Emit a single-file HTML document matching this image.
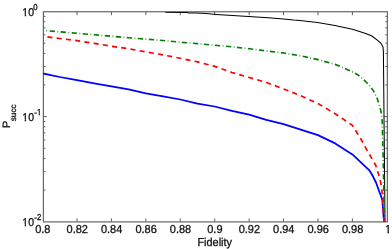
<!DOCTYPE html>
<html><head><meta charset="utf-8"><title>P_succ vs Fidelity</title><style>
html,body{margin:0;padding:0;background:#fff;overflow:hidden;}
svg{display:block;will-change:transform;font-family:"Liberation Sans",sans-serif;}
text{text-rendering:geometricPrecision;fill:#111;stroke:#111;stroke-width:0.3;}
</style></head><body>
<svg width="392" height="249" viewBox="0 0 392 249">
<defs><clipPath id="plot"><rect x="44.0" y="11.75" width="343.35" height="210.15"/></clipPath><clipPath id="plotb"><rect x="43.199999999999996" y="11.75" width="343.95" height="210.15"/></clipPath><clipPath id="c0"><path d="M-2.00,-13.50H11.50V-1.51H4.16V2.00H2.64V-1.51H-2.00Z"/></clipPath><clipPath id="c1"><path d="M-2.00,-13.30H11.30V-1.49H4.09V2.00H2.59V-1.49H-2.00Z"/></clipPath><clipPath id="c2"><path d="M-2.00,-13.30H11.30V-1.49H4.09V2.00H2.59V-1.49H-2.00Z"/></clipPath><clipPath id="c3"><path d="M-2.00,-10.60H8.60V-1.29H3.17V2.00H1.91V-1.29H-2.00Z"/></clipPath><clipPath id="c4"><path d="M-2.00,-13.30H11.30V-1.49H4.09V2.00H2.59V-1.49H-2.00Z"/></clipPath></defs>
<rect width="392" height="249" fill="#fff"/>
<rect x="43.4" y="11.75" width="343.95" height="210.15" fill="none" stroke="#666" stroke-width="1.2"/>
<line x1="77.01" y1="221.9" x2="77.01" y2="218.4" stroke="#505050" stroke-width="0.9"/>
<line x1="77.01" y1="11.75" x2="77.01" y2="15.25" stroke="#505050" stroke-width="0.9"/>
<line x1="111.43" y1="221.9" x2="111.43" y2="218.4" stroke="#505050" stroke-width="0.9"/>
<line x1="111.43" y1="11.75" x2="111.43" y2="15.25" stroke="#505050" stroke-width="0.9"/>
<line x1="145.86" y1="221.9" x2="145.86" y2="218.4" stroke="#505050" stroke-width="0.9"/>
<line x1="145.86" y1="11.75" x2="145.86" y2="15.25" stroke="#505050" stroke-width="0.9"/>
<line x1="180.28" y1="221.9" x2="180.28" y2="218.4" stroke="#505050" stroke-width="0.9"/>
<line x1="180.28" y1="11.75" x2="180.28" y2="15.25" stroke="#505050" stroke-width="0.9"/>
<line x1="214.70" y1="221.9" x2="214.70" y2="218.4" stroke="#505050" stroke-width="0.9"/>
<line x1="214.70" y1="11.75" x2="214.70" y2="15.25" stroke="#505050" stroke-width="0.9"/>
<line x1="249.13" y1="221.9" x2="249.13" y2="218.4" stroke="#505050" stroke-width="0.9"/>
<line x1="249.13" y1="11.75" x2="249.13" y2="15.25" stroke="#505050" stroke-width="0.9"/>
<line x1="283.56" y1="221.9" x2="283.56" y2="218.4" stroke="#505050" stroke-width="0.9"/>
<line x1="283.56" y1="11.75" x2="283.56" y2="15.25" stroke="#505050" stroke-width="0.9"/>
<line x1="317.98" y1="221.9" x2="317.98" y2="218.4" stroke="#505050" stroke-width="0.9"/>
<line x1="317.98" y1="11.75" x2="317.98" y2="15.25" stroke="#505050" stroke-width="0.9"/>
<line x1="352.40" y1="221.9" x2="352.40" y2="218.4" stroke="#505050" stroke-width="0.9"/>
<line x1="352.40" y1="11.75" x2="352.40" y2="15.25" stroke="#505050" stroke-width="0.9"/>
<line x1="43.4" y1="116.62" x2="46.9" y2="116.62" stroke="#505050" stroke-width="0.9"/>
<line x1="387.35" y1="116.62" x2="383.85" y2="116.62" stroke="#505050" stroke-width="0.9"/>
<line x1="43.4" y1="84.99" x2="45.4" y2="84.99" stroke="#505050" stroke-width="0.9"/>
<line x1="387.35" y1="84.99" x2="385.35" y2="84.99" stroke="#505050" stroke-width="0.9"/>
<line x1="43.4" y1="66.49" x2="45.4" y2="66.49" stroke="#505050" stroke-width="0.9"/>
<line x1="387.35" y1="66.49" x2="385.35" y2="66.49" stroke="#505050" stroke-width="0.9"/>
<line x1="43.4" y1="53.36" x2="45.4" y2="53.36" stroke="#505050" stroke-width="0.9"/>
<line x1="387.35" y1="53.36" x2="385.35" y2="53.36" stroke="#505050" stroke-width="0.9"/>
<line x1="43.4" y1="43.18" x2="45.4" y2="43.18" stroke="#505050" stroke-width="0.9"/>
<line x1="387.35" y1="43.18" x2="385.35" y2="43.18" stroke="#505050" stroke-width="0.9"/>
<line x1="43.4" y1="34.86" x2="45.4" y2="34.86" stroke="#505050" stroke-width="0.9"/>
<line x1="387.35" y1="34.86" x2="385.35" y2="34.86" stroke="#505050" stroke-width="0.9"/>
<line x1="43.4" y1="27.83" x2="45.4" y2="27.83" stroke="#505050" stroke-width="0.9"/>
<line x1="387.35" y1="27.83" x2="385.35" y2="27.83" stroke="#505050" stroke-width="0.9"/>
<line x1="43.4" y1="21.73" x2="45.4" y2="21.73" stroke="#505050" stroke-width="0.9"/>
<line x1="387.35" y1="21.73" x2="385.35" y2="21.73" stroke="#505050" stroke-width="0.9"/>
<line x1="43.4" y1="16.36" x2="45.4" y2="16.36" stroke="#505050" stroke-width="0.9"/>
<line x1="387.35" y1="16.36" x2="385.35" y2="16.36" stroke="#505050" stroke-width="0.9"/>
<line x1="43.4" y1="190.07" x2="45.4" y2="190.07" stroke="#505050" stroke-width="0.9"/>
<line x1="387.35" y1="190.07" x2="385.35" y2="190.07" stroke="#505050" stroke-width="0.9"/>
<line x1="43.4" y1="171.57" x2="45.4" y2="171.57" stroke="#505050" stroke-width="0.9"/>
<line x1="387.35" y1="171.57" x2="385.35" y2="171.57" stroke="#505050" stroke-width="0.9"/>
<line x1="43.4" y1="158.44" x2="45.4" y2="158.44" stroke="#505050" stroke-width="0.9"/>
<line x1="387.35" y1="158.44" x2="385.35" y2="158.44" stroke="#505050" stroke-width="0.9"/>
<line x1="43.4" y1="148.26" x2="45.4" y2="148.26" stroke="#505050" stroke-width="0.9"/>
<line x1="387.35" y1="148.26" x2="385.35" y2="148.26" stroke="#505050" stroke-width="0.9"/>
<line x1="43.4" y1="139.94" x2="45.4" y2="139.94" stroke="#505050" stroke-width="0.9"/>
<line x1="387.35" y1="139.94" x2="385.35" y2="139.94" stroke="#505050" stroke-width="0.9"/>
<line x1="43.4" y1="132.90" x2="45.4" y2="132.90" stroke="#505050" stroke-width="0.9"/>
<line x1="387.35" y1="132.90" x2="385.35" y2="132.90" stroke="#505050" stroke-width="0.9"/>
<line x1="43.4" y1="126.81" x2="45.4" y2="126.81" stroke="#505050" stroke-width="0.9"/>
<line x1="387.35" y1="126.81" x2="385.35" y2="126.81" stroke="#505050" stroke-width="0.9"/>
<line x1="43.4" y1="121.43" x2="45.4" y2="121.43" stroke="#505050" stroke-width="0.9"/>
<line x1="387.35" y1="121.43" x2="385.35" y2="121.43" stroke="#505050" stroke-width="0.9"/>
<g clip-path="url(#plot)">
<polyline points="165.30,12.35 186.50,12.45 189.00,13.00 196.00,13.10 206.00,13.60 216.00,14.40 228.50,15.20 248.50,16.50 268.50,17.80 283.50,19.10 293.50,20.10 300.00,20.60 317.50,22.60 335.00,25.50 352.40,29.20 365.00,33.20 371.85,36.00 377.00,39.85 380.80,43.10 383.00,46.90 383.40,52.00 385.00,221.70" fill="none" stroke="#000" stroke-width="1.05" stroke-linejoin="round"/>
<polyline points="42.58,30.40 59.79,31.80 77.01,33.30 94.22,34.75 111.43,36.27 128.64,37.75 145.86,39.10 163.07,40.55 180.28,42.20 197.49,43.65 214.70,45.25 231.92,46.80 249.13,48.80 266.34,50.90 283.56,53.00 300.77,55.80 317.98,59.65 335.19,64.40 341.50,66.90 347.50,69.70 352.50,72.00 357.50,74.65 362.00,78.10 366.00,82.00 369.70,85.80 373.30,90.60 376.90,97.70 379.40,105.30 381.10,112.00 382.20,121.30 382.60,135.00 383.00,150.00 383.70,185.00 384.40,221.70" fill="none" stroke="#008000" stroke-width="1.65" stroke-dasharray="5.3 2.53 0.7 2.53" stroke-dashoffset="3.97"/>
</g>
<polyline points="42.58,73.40 59.79,77.00 77.01,80.10 94.22,83.40 111.43,86.45 128.64,89.40 145.86,93.40 163.07,96.30 180.28,99.50 197.49,103.70 214.70,106.50 231.92,110.90 249.13,114.60 266.34,119.80 283.56,124.10 300.77,129.65 317.98,135.10 335.19,143.40 352.40,154.40 369.62,170.70 372.50,175.50 376.00,182.50 379.00,190.80 382.30,199.60 384.00,221.70" fill="none" stroke="#0000ff" stroke-width="1.75" stroke-linejoin="round" clip-path="url(#plotb)"/>
<g clip-path="url(#plot)">
<polyline points="42.58,36.30 59.79,38.50 77.01,40.70 94.22,43.35 111.43,46.20 128.64,48.80 145.86,51.80 163.07,54.95 180.28,58.25 197.49,61.90 214.70,66.40 231.92,72.45 249.13,77.45 266.34,82.45 283.56,88.95 300.77,95.70 317.98,103.60 335.19,113.70 352.40,125.30 360.25,138.00 367.75,151.50 375.70,165.20 378.50,174.00 380.20,180.20 381.20,185.30 382.20,192.50 382.60,200.00 384.00,221.70" fill="none" stroke="#ff0000" stroke-width="1.7" stroke-dasharray="5.1 4.228" stroke-dashoffset="4.47"/>
</g>
<text transform="translate(42.78,233.30) scale(0.955,1)" font-size="11.5" text-anchor="middle">0.8</text>
<text transform="translate(77.21,233.30) scale(0.955,1)" font-size="11.5" text-anchor="middle">0.82</text>
<text transform="translate(111.63,233.30) scale(0.955,1)" font-size="11.5" text-anchor="middle">0.84</text>
<text transform="translate(146.06,233.30) scale(0.955,1)" font-size="11.5" text-anchor="middle">0.86</text>
<text transform="translate(180.48,233.30) scale(0.955,1)" font-size="11.5" text-anchor="middle">0.88</text>
<text transform="translate(214.90,233.30) scale(0.955,1)" font-size="11.5" text-anchor="middle">0.9</text>
<text transform="translate(249.33,233.30) scale(0.955,1)" font-size="11.5" text-anchor="middle">0.92</text>
<text transform="translate(283.75,233.30) scale(0.955,1)" font-size="11.5" text-anchor="middle">0.94</text>
<text transform="translate(318.18,233.30) scale(0.955,1)" font-size="11.5" text-anchor="middle">0.96</text>
<text transform="translate(352.60,233.30) scale(0.955,1)" font-size="11.5" text-anchor="middle">0.98</text>
<g transform="translate(384.98,233.30) scale(0.955,1)"><text x="0.00" y="0.00" font-size="11.5" clip-path="url(#c0)">1</text></g>
<text transform="translate(214.70,245.70) scale(0.95,1)" font-size="11.5" text-anchor="middle">Fidelity</text>
<g transform="translate(22.30,15.70) scale(0.93,1)"><text x="0.00" y="0.00" font-size="11.3" clip-path="url(#c1)">1</text></g>
<text transform="translate(28.14,15.70) scale(0.93,1)" font-size="11.3" text-anchor="start">0</text>
<text transform="translate(33.30,10.10) scale(0.9,1)" font-size="8.6" text-anchor="start">0</text>
<g transform="translate(22.30,120.78) scale(0.93,1)"><text x="0.00" y="0.00" font-size="11.3" clip-path="url(#c2)">1</text></g>
<text transform="translate(28.14,120.78) scale(0.93,1)" font-size="11.3" text-anchor="start">0</text>
<text x="34.0" y="116.28" font-size="8.6" textLength="3.2" lengthAdjust="spacingAndGlyphs">−</text>
<g transform="translate(37.00,114.88) scale(0.9,1)"><text x="0.00" y="0.00" font-size="8.6" clip-path="url(#c3)">1</text></g>
<g transform="translate(22.30,225.85) scale(0.93,1)"><text x="0.00" y="0.00" font-size="11.3" clip-path="url(#c4)">1</text></g>
<text transform="translate(28.14,225.85) scale(0.93,1)" font-size="11.3" text-anchor="start">0</text>
<text x="34.0" y="221.35" font-size="8.6" textLength="3.2" lengthAdjust="spacingAndGlyphs">−</text>
<text transform="translate(37.00,219.95) scale(0.9,1)" font-size="8.6" text-anchor="start">2</text>
<text transform="translate(9.6,128.2) scale(0.94,1) rotate(-90)" font-size="11.3">P</text>
<text transform="translate(15.7,121.2) rotate(-90)" font-size="8.15">succ</text>
</svg>
</body></html>
